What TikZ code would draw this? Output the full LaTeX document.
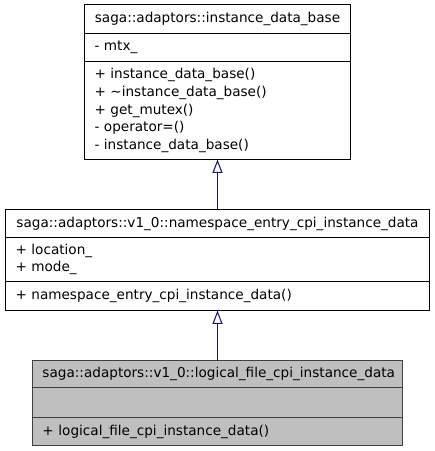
\documentclass[tikz,border=0pt]{standalone}
\usepackage{fontspec}
\setmainfont{DejaVu Sans}
\usetikzlibrary{arrows.meta,positioning}
\definecolor{midnight}{RGB}{25,25,112}
\tikzset{
	cls/.style={draw=black, line width=0.8pt, rectangle, anchor=north west, outer sep=0pt, inner xsep=7.5pt, inner ysep=0pt, font=\fontsize{10.2}{13.3}\selectfont},
	clsname/.style={cls, align=center},
	clsbody/.style={cls, align=left},
	focus/.style={fill=black!25, draw=black!75},
	inherit/.style={draw=midnight, line width=0.8pt, -{Triangle[open, length=10pt, width=7.5pt, fill=white]}}
}

\begin{document}
\begin{tikzpicture}[x=0.75pt, y=-0.75pt]
			%%%%% START %%%%%
			\useasboundingbox (0, 0) rectangle (435, 451);
			
			% instance_data_base
			\node[clsname, text width=184.5pt, minimum height=21.75pt] (baseName) at (84.5, 4.5) {saga::adaptors::instance\_data\_base};
			\node[clsbody, text width=184.5pt, minimum height=21pt] (baseAttr) at (baseName.south west) {- mtx\_};
			\node[clsbody, text width=184.5pt, minimum height=73.5pt] (baseMeth) at (baseAttr.south west) {+ instance\_data\_base()\\+ \textasciitilde instance\_data\_base()\\+ get\_mutex()\\- operator=()\\- instance\_data\_base()};
			
			% namespace_entry_cpi_instance_data
			\node[clsname, text width=303pt, minimum height=21pt] (nsName) at (5.5, 209.5) {saga::adaptors::v1\_0::namespace\_entry\_cpi\_instance\_data};
			\node[clsbody, text width=303pt, minimum height=33pt] (nsAttr) at (nsName.south west) {+ location\_\\+ mode\_};
			\node[clsbody, text width=303pt, minimum height=21.75pt] (nsMeth) at (nsAttr.south west) {+ namespace\_entry\_cpi\_instance\_data()};
			
			% logical_file_cpi_instance_data
			\node[clsname, focus, text width=262.5pt, minimum height=20.25pt] (lfName) at (32.5, 360.5) {saga::adaptors::v1\_0::logical\_file\_cpi\_instance\_data};
			\node[clsbody, focus, text width=262.5pt, minimum height=22.5pt] (lfAttr) at (lfName.south west) {};
			\node[clsbody, focus, text width=262.5pt, minimum height=21pt] (lfMeth) at (lfAttr.south west) {+ logical\_file\_cpi\_instance\_data()};
			
			\draw[inherit] (nsName.north) -- (nsName.north |- baseMeth.south);
			\draw[inherit] (lfName.north) -- (lfName.north |- nsMeth.south);
			
			%%%%% END %%%%%
\end{tikzpicture}
\end{document}
